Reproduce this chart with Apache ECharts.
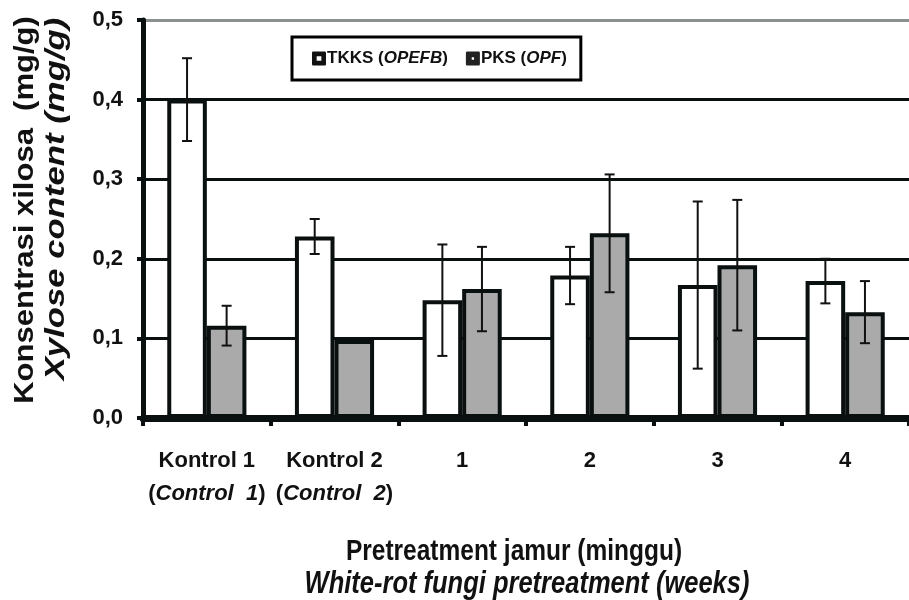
<!DOCTYPE html>
<html>
<head>
<meta charset="utf-8">
<script src="https://cdn.jsdelivr.net/npm/echarts@6/dist/echarts.min.js"></script>
<style>html,body{margin:0;padding:0;background:#fff;}#c{width:909px;height:600px;}</style>
</head>
<body>
<div id="c"></div>
<script>
const categories = ['Kontrol 1', 'Kontrol 2', '1', '2', '3', '4'];
const subLabels = ['Control  1', 'Control  2', '', '', '', ''];
const yTicks = ['0,0', '0,1', '0,2', '0,3', '0,4', '0,5'];
const tkks = [0.400, 0.228, 0.148, 0.179, 0.167, 0.172];
const tkksErr = [0.052, 0.022, 0.070, 0.036, 0.105, 0.028];
const pks = [0.116, 0.098, 0.162, 0.232, 0.192, 0.133];
const pksErr = [0.025, 0, 0.053, 0.074, 0.082, 0.039];

const SANS = "'Liberation Sans', Arial, sans-serif";
const BAR_FRAC = 0.31;
const ICON_HOLLOW = 'path://M1,0H11Q12,0,12,1V11Q12,12,11,12H1Q0,12,0,11V1Q0,0,1,0Z M4,4V8H8V4Z';
const ICON_SOLID = 'path://M1,0H11Q12,0,12,1V11Q12,12,11,12H1Q0,12,0,11V1Q0,0,1,0Z M5,5V7H7V5Z';

const chart = echarts.init(document.getElementById('c'));

function errorSeries(values, errs, side) {
  return {
    type: 'custom',
    z: 10,
    silent: true,
    data: values.map((v, i) => [i, v - errs[i], v + errs[i]]),
    renderItem: function (params, api) {
      const idx = api.value(0);
      const lo = api.coord([idx, api.value(1)]);
      const hi = api.coord([idx, api.value(2)]);
      const band = api.size([1, 0])[0];
      const x = lo[0] + side * band * BAR_FRAC / 2;
      const cap = 5;
      if (api.value(2) - api.value(1) <= 0) return null;
      const st = { stroke: '#111', lineWidth: 2 };
      return {
        type: 'group',
        children: [
          { type: 'line', shape: { x1: x, y1: lo[1], x2: x, y2: hi[1] }, style: st },
          { type: 'line', shape: { x1: x - cap, y1: lo[1], x2: x + cap, y2: lo[1] }, style: st },
          { type: 'line', shape: { x1: x - cap, y1: hi[1], x2: x + cap, y2: hi[1] }, style: st }
        ]
      };
    }
  };
}

const option = {
  animation: false,
  backgroundColor: '#fff',
  grid: { left: 143, right: -10, top: 20, bottom: 182 },
  legend: {
    left: 292, top: 37,
    padding: [13, 14, 13, 20],
    itemGap: 18,
    itemWidth: 14, itemHeight: 14,
    borderColor: '#000', borderWidth: 3,
    backgroundColor: '#fff',
    data: [
      { name: 'TKKS', icon: ICON_HOLLOW, itemStyle: { color: '#111', borderWidth: 0 } },
      { name: 'PKS', icon: ICON_SOLID, itemStyle: { color: '#222', borderWidth: 0 } }
    ],
    formatter: function (name) {
      return name === 'TKKS' ? 'TKKS ({i|OPEFB})' : 'PKS ({i|OPF})';
    },
    textStyle: {
      fontFamily: SANS, fontWeight: 'bold', fontSize: 17, color: '#111', padding: [0, 0, 0, -4],
      rich: { i: { fontFamily: SANS, fontWeight: 'bold', fontStyle: 'italic', fontSize: 17, color: '#111' } }
    }
  },
  xAxis: {
    type: 'category',
    data: categories,
    axisLine: { lineStyle: { color: '#0a0f0f', width: 7 } },
    axisTick: { show: true, length: 8, lineStyle: { color: '#0a0f0f', width: 4 } },
    axisLabel: {
      interval: 0,
      margin: 26,
      color: '#111',
      fontFamily: SANS, fontWeight: 'bold', fontSize: 22, lineHeight: 33,
      formatter: function (v, i) {
        return subLabels[i] ? v + '\n({i|' + subLabels[i] + '})' : v;
      },
      rich: { i: { fontFamily: SANS, fontWeight: 'bold', fontStyle: 'italic', fontSize: 22, lineHeight: 33, color: '#111' } }
    },
    splitLine: { show: false }
  },
  yAxis: {
    type: 'value',
    min: 0, max: 0.5, interval: 0.1,
    axisLine: { show: true, lineStyle: { color: '#0a0f0f', width: 5 } },
    axisTick: { show: true, length: 6, lineStyle: { color: '#0a0f0f', width: 4 } },
    axisLabel: {
      margin: 20,
      color: '#111',
      fontFamily: SANS, fontWeight: 'bold', fontSize: 22,
      formatter: function (v) { return yTicks[Math.round(v * 10)]; }
    },
    splitLine: { show: true, lineStyle: { color: ['#0a0f0f', '#0a0f0f', '#0a0f0f', '#0a0f0f', '#0a0f0f', '#8a8f8f'], width: 3 } }
  },
  series: [
    {
      name: 'TKKS', type: 'bar', data: tkks,
      barWidth: (BAR_FRAC * 100) + '%', barGap: '0%',
      itemStyle: { color: '#ffffff', borderColor: '#0a0f0f', borderWidth: 4 }
    },
    {
      name: 'PKS', type: 'bar', data: pks,
      barWidth: (BAR_FRAC * 100) + '%', barGap: '0%',
      itemStyle: { color: '#aaaaaa', borderColor: '#0a0f0f', borderWidth: 4 }
    },
    errorSeries(tkks, tkksErr, -1),
    errorSeries(pks, pksErr, 1)
  ],
  graphic: [
    {
      type: 'text', x: 25, y: 210, rotation: Math.PI / 2, scaleX: 1.0, scaleY: 0.9,
      style: {
        text: 'Konsentrasi xilosa  (mg/g)', fill: '#111',
        font: 'bold 31px ' + SANS, align: 'center', verticalAlign: 'middle'
      }
    },
    {
      type: 'text', x: 56, y: 199, rotation: Math.PI / 2, scaleX: 1.12, scaleY: 0.9,
      style: {
        text: 'Xylose content (mg/g)', fill: '#111',
        font: 'italic bold 31px ' + SANS, align: 'center', verticalAlign: 'middle'
      }
    },
    {
      type: 'text', x: 514, y: 552, scaleX: 1.0, scaleY: 1.2,
      style: {
        text: 'Pretreatment jamur (minggu)', fill: '#111',
        font: 'bold 24.5px ' + SANS, align: 'center', verticalAlign: 'middle'
      }
    },
    {
      type: 'text', x: 527, y: 585, scaleX: 1.0, scaleY: 1.2,
      style: {
        text: 'White-rot fungi pretreatment (weeks)', fill: '#111',
        font: 'italic bold 25.5px ' + SANS, align: 'center', verticalAlign: 'middle'
      }
    }
  ]
};
chart.setOption(option);
</script>
</body>
</html>
